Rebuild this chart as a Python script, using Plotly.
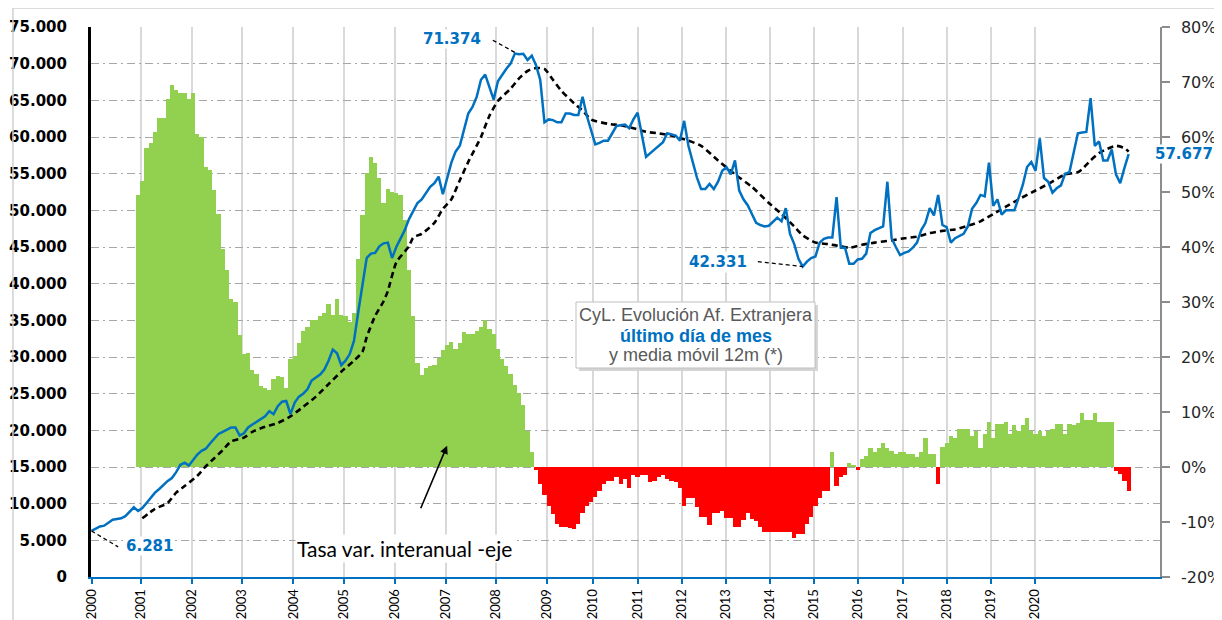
import plotly.graph_objects as go

# ---------------- data ----------------
# x axis: month index, 0 = Jan-2000 ... 245 = Jun-2020
years = [str(y) for y in range(2000, 2021)]
year_tick_month = [0, 11.7, 23.7, 35.6, 47.7, 59.6, 71.7, 83.7, 95.5, 107.5, 118.5,
                   129.0, 139.5, 149.9, 160.3, 170.7, 181.1, 191.6, 202.0, 212.4, 222.8]

# Afiliados extranjeros, último día de mes (miles)
afiliados_miles = [
    6.281, 6.6, 6.9, 7.0, 7.4, 7.8, 7.9, 8.0, 8.3, 8.9,
    9.5, 9.0, 9.4, 10.1, 10.8, 11.5, 12.0, 12.6, 13.1, 13.5,
    14.3, 15.3, 15.6, 15.2, 16.0, 16.7, 17.2, 17.5, 18.2, 18.9,
    19.5, 19.8, 20.1, 20.4, 20.4, 19.3, 19.6, 20.4, 20.8, 21.2,
    21.6, 21.9, 22.6, 22.2, 23.3, 23.9, 24.0, 22.2, 23.8, 24.6,
    25.0, 25.6, 26.8, 27.2, 27.6, 28.3, 29.5, 31.0, 30.5, 28.9,
    29.5, 30.4, 32.2, 36.1, 40.0, 43.5, 44.1, 44.2, 45.1, 45.5,
    45.6, 43.5, 45.0, 46.2, 47.3, 48.8, 50.0, 51.0, 51.5, 52.3,
    53.2, 53.7, 54.6, 52.2, 54.5, 56.5, 58.0, 58.8, 61.0, 63.2,
    64.1, 65.5, 67.8, 68.5, 66.8, 65.1, 67.6, 68.5, 69.3, 70.0,
    71.374, 71.3, 71.35, 70.5, 71.1, 69.8, 67.8, 62.0, 62.4, 62.3,
    62.0, 62.0, 63.2, 63.2, 63.0, 63.0, 65.5, 62.9, 61.0, 59.0,
    59.2, 59.5, 59.5, 60.5, 61.5, 61.6, 61.7, 61.2, 62.4, 63.3,
    60.5, 57.3, 57.8, 58.3, 58.8, 59.3, 60.5, 60.4, 60.2, 59.5,
    62.2, 58.8, 56.6, 54.5, 52.9, 52.9, 53.6, 52.9, 53.9, 55.4,
    55.9, 54.9, 56.8, 52.7, 51.5, 50.7, 49.5, 48.3, 48.0, 47.8,
    47.9, 48.5, 49.0, 48.5, 50.3, 46.8, 45.4, 43.4, 42.331, 43.0,
    43.5, 43.7, 45.6, 46.1, 46.3, 46.3, 51.8, 44.9, 44.9, 42.7,
    42.7, 43.3, 43.4, 44.1, 46.9, 47.3, 47.6, 47.8, 53.9, 46.2,
    45.0, 43.9, 44.2, 44.4, 44.9, 45.6, 47.3, 48.3, 50.3, 49.3,
    52.1, 48.0, 47.7, 45.6, 46.2, 46.5, 46.8, 47.8, 50.2, 51.0,
    52.1, 51.9, 56.5, 50.6, 51.5, 49.4, 50.0, 50.0, 50.0, 51.7,
    53.5, 55.9, 56.6, 55.4, 59.8, 54.4, 53.9, 52.4, 53.0, 53.4,
    55.0, 55.2, 58.0, 60.5, 60.6, 60.7, 65.3, 58.8, 59.4, 56.8,
    56.8, 58.3, 54.9, 53.7, 55.8, 57.677,
]

# Tasa de variación interanual (%), months 11..245
tasa_primer_mes = 11
tasa_var = [
    49.5, 52, 58, 59, 61, 63.5, 63.5, 67, 69.5, 68.6,
    68, 68, 67, 68, 60.5, 60, 54.6, 54, 50.4, 46,
    39.7, 35.8, 30.6, 30, 24, 20.5, 20.8, 17.6, 17, 14.7,
    14.4, 14, 16, 16.6, 16.3, 14.4, 19.6, 20.2, 22.5, 24.8,
    25.4, 26.7, 26.7, 27.4, 28, 29.6, 27.7, 30.6, 27.7, 27.4,
    26.4, 28, 37.8, 45.9, 53.4, 56.3, 55.3, 52.5, 48, 50.5,
    50, 49.8, 49.5, 45, 35.8, 27.4, 19, 16.7, 18, 18.3,
    18.5, 19.9, 21.2, 22.2, 22.8, 21.5, 22.5, 24.5, 24.2, 24.2,
    24.8, 25.5, 26.8, 25.1, 24.2, 21.5, 19.6, 18.3, 17, 15,
    13.4, 11.2, 6.6, 2.7, -0.5, -3, -5, -7, -8.6, -10.3,
    -10.9, -10.9, -11, -11.2, -10.3, -8.3, -7, -6.4, -5.5, -4.4,
    -3.1, -2.5, -2.5, -1.8, -3.1, -2.1, -3.8, -1.5, -1.8, -1.5,
    -1.5, -2.8, -2.5, -1.8, -1.5, -2.1, -2.5, -2.8, -3.8, -7,
    -5.7, -5.7, -7.3, -9, -9, -10.6, -8.3, -8.3, -8, -9.3,
    -9.3, -10.9, -10.9, -9.6, -8.3, -9.5, -9.9, -10.9, -11.9, -11.9,
    -11.9, -11.9, -11.9, -11.9, -11.9, -12.9, -12.2, -12.2, -10.3, -9,
    -7, -5.7, -4.4, -4.4, 2.7, -3.4, -1.8, -1.5, 0.8, 0.3,
    -0.5, 1.4, 2, 3.4, 2.7, 3.4, 4.4, 3.4, 3, 2.4,
    2.7, 2.7, 2.4, 2.4, 1.8, 2.7, 5.3, 2.4, 2.4, -3.1,
    3.7, 4.4, 5.6, 5.3, 7, 7, 7, 5.6, 6.6, 3.4,
    6, 8.2, 5.3, 7.9, 7.9, 8.2, 6, 7.6, 6.6, 7.6,
    8.9, 6.6, 6, 6.6, 5.6, 6.6, 7, 7.9, 7.9, 6,
    7.9, 7.6, 8, 9.9, 8.6, 8.6, 9.9, 8.2, 8.2, 8.2,
    8.2, -0.8, -1.2, -2.5, -4.4,
]

# Media móvil 12 meses (miles), read at sample months
ma_mes = [12, 15, 18, 20, 22, 25, 27, 29, 31, 33, 36, 38, 41, 44, 47, 50, 53, 56, 59, 62,
          64, 65, 67, 69, 70, 72, 75, 76, 78, 81, 83, 85, 87, 89, 92, 94, 96, 99, 101, 103,
          105, 107, 109, 111, 114, 116, 118, 122, 125, 128, 131, 134, 137, 141, 144, 148, 152, 156, 160, 163,
          166, 168, 171, 174, 177, 179, 182, 185, 189, 192, 195, 198, 201, 204, 207, 210, 213, 216, 219, 223,
          226, 230, 233, 234, 236, 238, 240, 242, 244, 245]
ma_miles = [8.0, 9.3, 10.1, 11.5, 12.4, 13.8, 15.1, 16.2, 17.3, 18.5, 19.0, 19.8, 20.5, 21.0, 21.9, 23.2, 24.6, 26.3, 28.0, 29.5,
            30.7, 32.7, 35.6, 37.6, 39.0, 42.9, 45.1, 46.3, 46.8, 48.3, 50.2, 51.5, 54.1, 56.6, 60.0, 62.9, 64.9, 66.6, 68.0, 69.0,
            69.4, 69.3, 67.8, 66.3, 64.6, 63.6, 62.4, 61.8, 61.6, 61.2, 60.7, 60.5, 60.2, 59.5, 58.8, 56.8, 54.9, 53.2, 51.0, 49.5,
            47.8, 46.6, 45.6, 45.4, 45.1, 44.9, 45.3, 45.6, 45.9, 46.2, 46.4, 46.9, 47.2, 47.4, 47.9, 48.5, 49.5, 50.5, 51.5, 52.7,
            53.6, 54.9, 55.2, 55.6, 56.8, 57.8, 58.4, 58.8, 58.5, 58.0]

left_ticks = list(range(0, 75001, 5000))
right_ticks = list(range(-20, 81, 10))

# ---------------- figure ----------------
meses = list(range(len(afiliados_miles)))
afiliados = [v * 1000 for v in afiliados_miles]
tasa_meses = list(range(tasa_primer_mes, tasa_primer_mes + len(tasa_var)))
bar_colors = ["#92D050" if v >= 0 else "#FF0000" for v in tasa_var]
ma_vals = [v * 1000 for v in ma_miles]

BLUE = "#0070C0"
fig = go.Figure()
fig.add_trace(go.Bar(x=tasa_meses, y=tasa_var, yaxis="y", width=1.0,
                     marker=dict(color=bar_colors, line=dict(width=0)), hoverinfo="skip"))
fig.add_trace(go.Scatter(x=ma_mes, y=ma_vals, yaxis="y2", mode="lines",
                         line=dict(color="black", width=2.6, dash="6px,4px", shape="spline", smoothing=0.6)))
fig.add_trace(go.Scatter(x=meses, y=afiliados, yaxis="y2", mode="lines",
                         line=dict(color=BLUE, width=2.5)))

def fmt_miles(v):
    return f"{v:,}".replace(",", ".")

# the page body adds an 8px offset, so the figure is 8px smaller on each side
fig.update_layout(
    width=1214, height=612,
    margin=dict(l=83, r=62, t=19, b=43, autoexpand=False),
    paper_bgcolor="white", plot_bgcolor="white",
    showlegend=False, bargap=0,
    font=dict(family="Liberation Sans", color="black"),
    xaxis=dict(range=[-0.12, 252.4], tickmode="array", tickvals=year_tick_month, ticktext=years,
               tickangle=-90, showgrid=True, gridcolor="#D9D9D9", gridwidth=2,
               showline=True, linecolor=BLUE, linewidth=2, automargin=False,
               ticks="outside", ticklen=5, tickcolor=BLUE, tickwidth=2,
               tickfont=dict(family="Lato", size=13, color="black"), zeroline=False),
    yaxis=dict(side="right", range=[-20, 80], tickmode="array", tickvals=right_ticks,
               ticktext=[f"{v}%" for v in right_ticks], automargin=False,
               showgrid=False, zeroline=False, showline=True, linecolor="#8C8C8C", linewidth=1.5,
               ticks="outside", ticklen=8, tickcolor="#8C8C8C", tickwidth=1.5,
               tickfont=dict(family="DejaVu Sans", size=16, color="#262626"), ticklabelstandoff=8),
    yaxis2=dict(overlaying="y", side="left", range=[0, 75000], tickmode="array",
                tickvals=left_ticks, ticktext=[fmt_miles(v) for v in left_ticks], automargin=False,
                showgrid=True, gridcolor="#A6A6A6", gridwidth=1, griddash="8px,4px,2px,4px",
                zeroline=False, showline=True, linecolor="black", linewidth=3, ticks="",
                tickfont=dict(family="DejaVu Sans", size=15, color="black", weight="bold"),
                ticklabelstandoff=18),
)

# leader lines & frame
peak_i = afiliados_miles.index(max(afiliados_miles))
min_i = afiliados_miles.index(min(afiliados_miles[100:]))
last_i = len(afiliados_miles) - 1
lead = dict(color="black", width=1.3, dash="4px,3px")
shapes = [
    dict(type="line", xref="x", yref="y2", x0=peak_i - 5.2, y0=73200, x1=peak_i + 0.5, y1=afiliados[peak_i], line=lead),
    dict(type="line", xref="x", yref="y2", x0=0, y0=afiliados[0], x1=6.3, y1=4100, line=lead),
    dict(type="line", xref="x", yref="y2", x0=157.4, y0=43000, x1=min_i, y1=afiliados[min_i], line=lead),
    # outer frame (left and top edges)
    dict(type="line", xref="paper", yref="paper", x0=-0.073, y0=-0.1, x1=-0.073, y1=1.0345,
         line=dict(color="#D0D0D0", width=1.5)),
    dict(type="line", xref="paper", yref="paper", x0=-0.073, y0=1.0345, x1=1.06, y1=1.0345,
         line=dict(color="#D0D0D0", width=1.5)),
    # title box shadow and box
    dict(type="rect", xref="paper", yref="paper", x0=0.4565, x1=0.6800, y0=0.3745, y1=0.4945,
         fillcolor="#D4D4D4", line=dict(width=0)),
    dict(type="rect", xref="paper", yref="paper", x0=0.4537, x1=0.6773, y0=0.3800, y1=0.5000,
         fillcolor="white", line=dict(color="#BFBFBF", width=1)),
]
fig.update_layout(shapes=shapes)

lab = dict(family="DejaVu Sans", size=15, color=BLUE)
ann = [
    dict(xref="x", yref="y2", x=92.2, y=73300, text="<b>" + fmt_miles(round(afiliados[peak_i])) + "</b>",
         xanchor="right", yanchor="middle", showarrow=False, font=lab, bgcolor="white", borderpad=0),
    dict(xref="x", yref="y2", x=7.9, y=4250, text="<b>" + fmt_miles(round(afiliados[0])) + "</b>",
         xanchor="left", yanchor="middle", showarrow=False, font=lab, bgcolor="white", borderpad=0),
    dict(xref="x", yref="y2", x=155.3, y=42950, text="<b>" + fmt_miles(round(afiliados[min_i])) + "</b>",
         xanchor="right", yanchor="middle", showarrow=False, font=lab, bgcolor="white", borderpad=1),
    dict(xref="x", yref="y2", x=250.9, y=afiliados[last_i], text="<b>" + fmt_miles(round(afiliados[last_i])) + "</b>",
         xanchor="left", yanchor="middle", showarrow=False, font=lab, bgcolor="white", borderpad=0),
    dict(xref="paper", yref="paper", x=0.5655, y=0.4764, text="CyL. Evolución Af. Extranjera",
         xanchor="center", yanchor="middle", showarrow=False,
         font=dict(family="Liberation Sans", size=18, color="#595959")),
    dict(xref="paper", yref="paper", x=0.5655, y=0.4382, text="<b>último día de mes</b>",
         xanchor="center", yanchor="middle", showarrow=False,
         font=dict(family="Liberation Sans", size=18, color=BLUE)),
    dict(xref="paper", yref="paper", x=0.5655, y=0.4036, text="y media móvil 12m (*)",
         xanchor="center", yanchor="middle", showarrow=False,
         font=dict(family="Liberation Sans", size=18, color="#595959")),
    dict(xref="paper", yref="paper", x=0.2928, y=0.0527, text="Tasa var. interanual -eje",
         xanchor="center", yanchor="middle", showarrow=False,
         font=dict(family="Lato", size=21, color="black"), bgcolor="white", borderpad=1),
    dict(xref="x", yref="y2", x=84, y=17900, ax=-27, ay=64, text="", showarrow=True,
         arrowhead=2, arrowsize=1, arrowwidth=1.6, arrowcolor="black"),
]
fig.update_layout(annotations=ann)

fig.write_html("out.html")
